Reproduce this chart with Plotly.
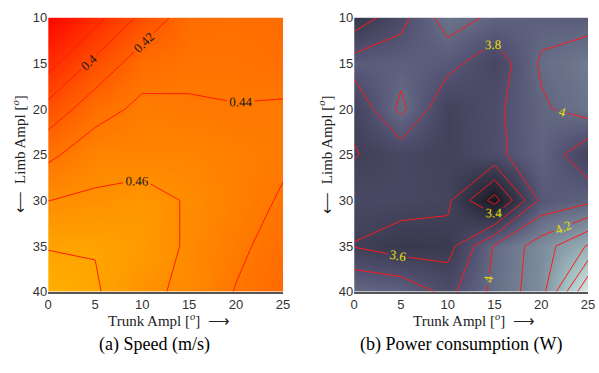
import plotly.graph_objects as go

# ---------------- data ----------------
trunk_ampl = [0, 5, 10, 15, 20, 25]            # x grid  (Trunk Ampl, deg)
limb_ampl = [10, 15, 20, 25, 30, 35, 40]        # y grid  (Limb Ampl, deg)

# speed (m/s), rows = limb_ampl, cols = trunk_ampl
speed = [
    [0.339, 0.373, 0.4047, 0.431, 0.432, 0.430],
    [0.373, 0.405, 0.431, 0.437, 0.437, 0.433],
    [0.4067, 0.4318, 0.4446, 0.4415, 0.4405, 0.442],
    [0.4356, 0.452, 0.4507, 0.452, 0.447, 0.443],
    [0.4598, 0.463, 0.468, 0.458, 0.448, 0.438],
    [0.479, 0.479, 0.472, 0.457, 0.444, 0.432],
    [0.490, 0.4823, 0.4644, 0.456, 0.439, 0.428],
]

# power consumption (W)
power = [
    [3.475, 3.73, 4.105, 3.955, 3.92, 3.90],
    [3.89, 3.925, 3.866, 3.668, 4.03, 4.15],
    [3.633, 4.05, 3.62, 3.752, 3.97, 4.10],
    [3.59, 3.68, 3.62, 3.74, 3.96, 3.63],
    [3.70, 3.68, 3.64, 3.12, 3.85, 3.95],
    [3.59, 3.50, 3.52, 4.02, 4.30, 4.62],
    [4.00, 3.95, 3.74, 4.05, 4.32, 5.20],
]

x_ticks = [0, 5, 10, 15, 20, 25]
y_ticks = [10, 15, 20, 25, 30, 35, 40]

speed_levels = dict(start=0.36, end=0.48, size=0.02)
power_levels = dict(start=3.2, end=5.0, size=0.2)

captions = ["(a) Speed (m/s)", "(b) Power consumption (W)"]
x_title = "Trunk Ampl [<i><sup>o</sup></i>]  \u27f6"
y_title = "\u27f5  Limb Ampl [<i><sup>o</sup></i>]"

# ---------------- styles ----------------
autumn = [[0, "rgb(255,0,0)"], [1, "rgb(255,255,0)"]]
bone = [
    [0.0, "rgb(0,0,0)"],
    [0.375, "rgb(84,84,116)"],
    [0.75, "rgb(167,199,199)"],
    [1.0, "rgb(255,255,255)"],
]

W, H = 599, 373
def px_x(p):
    return p / W
def px_y(p):
    return 1 - p / H

ydom = [px_y(296.7), px_y(11)]
xdom1 = [px_x(45), px_x(284.3)]
xdom2 = [px_x(356.7), px_x(595)]

serif = "Liberation Serif"
sans = "Liberation Sans"

fig = go.Figure()

fig.add_trace(go.Heatmap(
    x=trunk_ampl, y=limb_ampl, z=speed, zsmooth="best",
    colorscale=autumn, zmin=0.335, zmax=0.56, showscale=False,
    hoverinfo="skip", xaxis="x", yaxis="y"))
fig.add_trace(go.Contour(
    x=trunk_ampl, y=limb_ampl, z=speed, autocontour=False,
    contours=dict(**speed_levels, coloring="none", showlabels=True,
                  labelfont=dict(family=serif, size=13, color="#1a1a1a"),
                  labelformat=".2~f"),
    line=dict(color="#ff1a00", width=1, smoothing=0), showscale=False,
    hoverinfo="skip", xaxis="x", yaxis="y"))

fig.add_trace(go.Heatmap(
    x=trunk_ampl, y=limb_ampl, z=power, zsmooth="best",
    colorscale=bone, zmin=2.85, zmax=5.45, showscale=False,
    hoverinfo="skip", xaxis="x2", yaxis="y2"))
fig.add_trace(go.Contour(
    x=trunk_ampl, y=limb_ampl, z=power, autocontour=False,
    contours=dict(**power_levels, coloring="none", showlabels=True,
                  labelfont=dict(family=serif, size=13, color="#e8e000"),
                  labelformat=".1~f"),
    line=dict(color="#ff1a1a", width=1, smoothing=0), showscale=False,
    hoverinfo="skip", xaxis="x2", yaxis="y2"))

tickfont = dict(family=sans, size=13, color="#333")
xax = dict(range=[0, 25], tickvals=x_ticks, ticks="", showgrid=False,
           zeroline=False, showline=True, linecolor="#555", linewidth=1.5,
           tickfont=tickfont, fixedrange=True)
yax = dict(range=[40, 10], tickvals=y_ticks, ticks="", showgrid=False,
           zeroline=False, showline=False, tickfont=tickfont, domain=ydom,
           fixedrange=True)

fig.update_layout(
    width=W, height=H, margin=dict(l=0, r=0, t=0, b=0),
    paper_bgcolor="white", plot_bgcolor="white", showlegend=False,
    xaxis=dict(xax, domain=xdom1, anchor="y"),
    yaxis=dict(yax, anchor="x"),
    xaxis2=dict(xax, domain=xdom2, anchor="y2"),
    yaxis2=dict(yax, anchor="x2"),
)

ann = []
for dom, ytx in ((xdom1, 15), (xdom2, 327)):
    ann.append(dict(text=x_title, x=(dom[0] + dom[1]) / 2 + 3 / W, y=px_y(326),
                    xref="paper", yref="paper", showarrow=False,
                    font=dict(family=serif, size=15, color="#222"),
                    xanchor="center", yanchor="middle"))
    ann.append(dict(text=y_title, x=px_x(ytx), y=(ydom[0] + ydom[1]) / 2,
                    xref="paper", yref="paper", showarrow=False, textangle=-90,
                    font=dict(family=serif, size=15, color="#222"),
                    xanchor="center", yanchor="middle"))
for cap, cx in zip(captions, (153, 466)):
    ann.append(dict(text=cap, x=px_x(cx), y=px_y(352), xref="paper", yref="paper",
                    showarrow=False, font=dict(family=serif, size=18, color="black"),
                    xanchor="center", yanchor="middle"))
fig.update_layout(annotations=ann)

fig.write_html("out.html")
